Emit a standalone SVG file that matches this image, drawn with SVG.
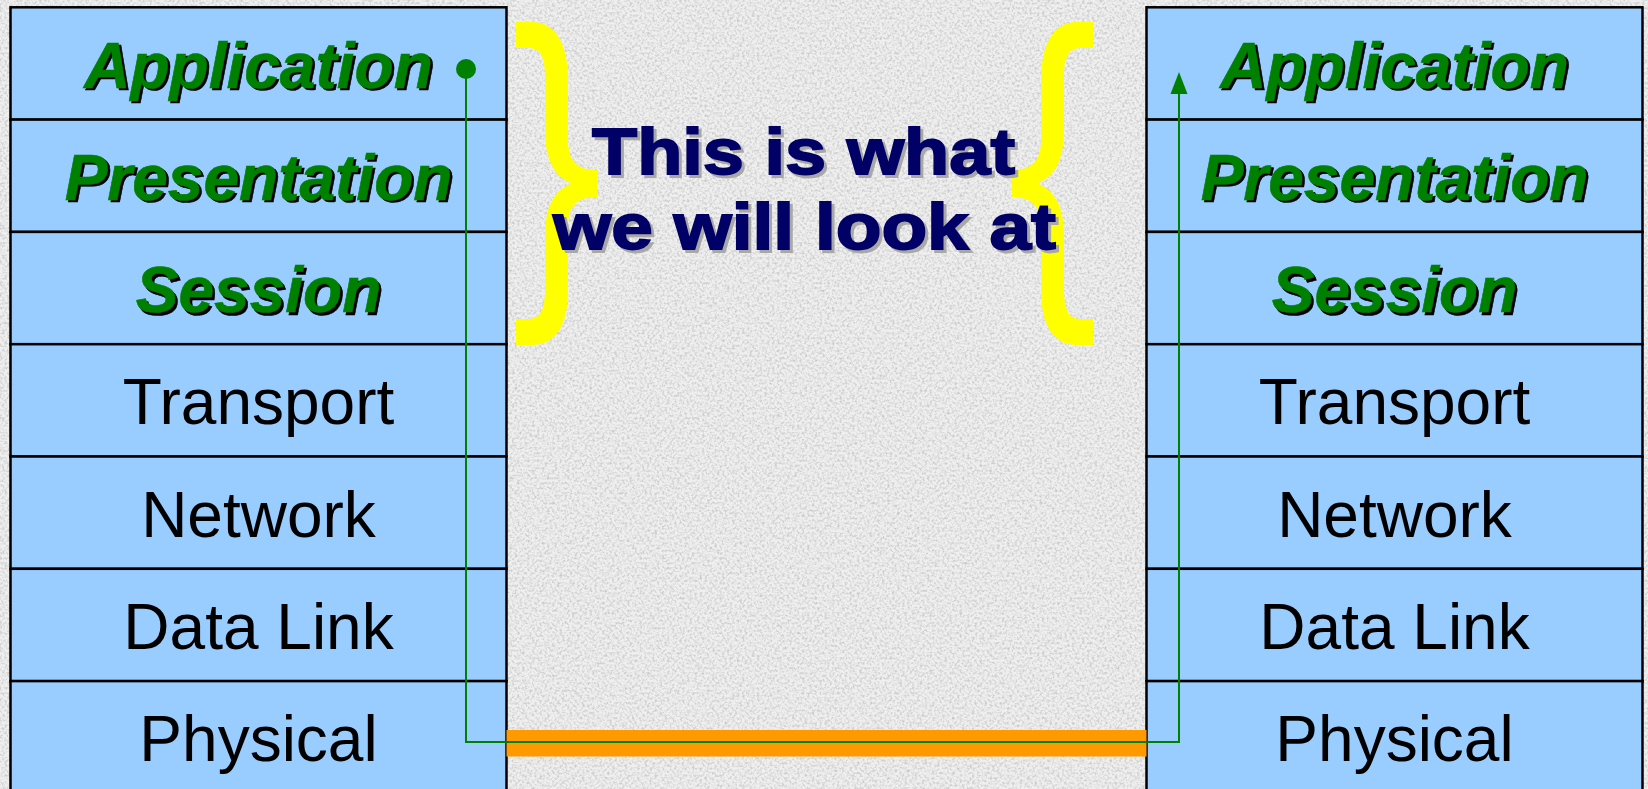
<svg xmlns="http://www.w3.org/2000/svg" width="1648" height="789" viewBox="0 0 1648 789">
<style>
.cell{fill:#99CCFF;stroke:#000;stroke-width:2.5}
.lbl{font-family:"Liberation Sans",Arial,sans-serif;font-size:64px;text-anchor:middle;fill:#000}
.top{font-family:"Liberation Sans",Arial,sans-serif;font-size:64px;font-weight:bold;font-style:italic;text-anchor:middle}
.sh{fill:#000;stroke:#000;stroke-width:0.6}
.gr{fill:#008000;stroke:#008000;stroke-width:0.6}
.title{font-family:"Liberation Sans",Arial,sans-serif;font-size:65px;font-weight:bold;text-anchor:middle;stroke-width:1.8}
.tsh{fill:#a8a8a8;stroke:#a8a8a8}
.tfg{fill:#000066;stroke:#000066}
.brace{fill:#FFFF00}
.link{fill:none;stroke:#008000;stroke-width:2}
</style>
<defs>
<filter id="noise" x="0" y="0" width="100%" height="100%">
<feTurbulence type="fractalNoise" baseFrequency="0.4" numOctaves="3" seed="7" result="t"/>
<feColorMatrix in="t" type="matrix" values="0 0 0 0 0.58  0 0 0 0 0.58  0 0 0 0 0.58  2.4 0 0 0 -1.0"/>
</filter>
<path id="br" d="M516,22 L532,22 C556,22 568,45 568,80 L568,140 C568,162 578,170 597,170 L597,197 C578,197 568,205 568,227 L568,290 C568,325 556,345 532,345 L516,345 L516,319 L528,319 C540,319 545,310 545,290 L545,235 C545,205 555,190 572,183.5 C555,177 545,161 545,130 L545,75 C545,57 540,48 528,48 L516,48 Z"/>
</defs>
<rect x="0" y="0" width="1648" height="789" fill="#efefef"/>
<rect x="0" y="0" width="1648" height="789" filter="url(#noise)"/>

<g id="left-stack">
<g id="l-application"><rect class="cell" x="10.5" y="7.3" width="496" height="112.3"/><text class="top sh" x="261" y="90">Application</text><text class="top gr" x="258.5" y="87.5">Application</text></g>
<g id="l-presentation"><rect class="cell" x="10.5" y="119.6" width="496" height="112.3"/><text class="top sh" x="261" y="202.3">Presentation</text><text class="top gr" x="258.5" y="199.8">Presentation</text></g>
<g id="l-session"><rect class="cell" x="10.5" y="231.9" width="496" height="112.3"/><text class="top sh" x="261" y="314.6">Session</text><text class="top gr" x="258.5" y="312.1">Session</text></g>
<g id="l-transport"><rect class="cell" x="10.5" y="344.2" width="496" height="112.3"/><text class="lbl" x="258.5" y="424.4">Transport</text></g>
<g id="l-network"><rect class="cell" x="10.5" y="456.5" width="496" height="112.3"/><text class="lbl" x="258.5" y="536.7">Network</text></g>
<g id="l-datalink"><rect class="cell" x="10.5" y="568.8" width="496" height="112.3"/><text class="lbl" x="258.5" y="649">Data Link</text></g>
<g id="l-physical"><rect class="cell" x="10.5" y="681.1" width="496" height="130"/><text class="lbl" x="258.5" y="761.3">Physical</text></g>
</g>

<g id="right-stack">
<g id="r-application"><rect class="cell" x="1146.5" y="7.3" width="496" height="112.3"/><text class="top sh" x="1397" y="90">Application</text><text class="top gr" x="1394.5" y="87.5">Application</text></g>
<g id="r-presentation"><rect class="cell" x="1146.5" y="119.6" width="496" height="112.3"/><text class="top sh" x="1397" y="202.3">Presentation</text><text class="top gr" x="1394.5" y="199.8">Presentation</text></g>
<g id="r-session"><rect class="cell" x="1146.5" y="231.9" width="496" height="112.3"/><text class="top sh" x="1397" y="314.6">Session</text><text class="top gr" x="1394.5" y="312.1">Session</text></g>
<g id="r-transport"><rect class="cell" x="1146.5" y="344.2" width="496" height="112.3"/><text class="lbl" x="1394.5" y="424.4">Transport</text></g>
<g id="r-network"><rect class="cell" x="1146.5" y="456.5" width="496" height="112.3"/><text class="lbl" x="1394.5" y="536.7">Network</text></g>
<g id="r-datalink"><rect class="cell" x="1146.5" y="568.8" width="496" height="112.3"/><text class="lbl" x="1394.5" y="649">Data Link</text></g>
<g id="r-physical"><rect class="cell" x="1146.5" y="681.1" width="496" height="130"/><text class="lbl" x="1394.5" y="761.3">Physical</text></g>
</g>

<g id="left-brace"><use href="#br" class="brace"/></g>
<g id="right-brace"><use href="#br" class="brace" transform="translate(1609,0) scale(-1,1)"/></g>

<g id="title">
<text class="title tsh" x="806.5" y="176.5" textLength="423" lengthAdjust="spacingAndGlyphs">This is what</text>
<text class="title tfg" x="803.5" y="173.5" textLength="423" lengthAdjust="spacingAndGlyphs">This is what</text>
<text class="title tsh" x="807.5" y="251.5" textLength="503" lengthAdjust="spacingAndGlyphs">we will look at</text>
<text class="title tfg" x="804.5" y="248.5" textLength="503" lengthAdjust="spacingAndGlyphs">we will look at</text>
</g>

<g id="connectors">
<rect x="506.5" y="730" width="640" height="26.5" fill="#FF9900"/>
<path class="link" d="M466,69 L466,742 L1179,742 L1179,90"/>
<polygon points="1179,72 1187.5,94 1170.5,94" fill="#008000"/>
<circle cx="466" cy="69" r="10" fill="#008000"/>
</g>
</svg>
